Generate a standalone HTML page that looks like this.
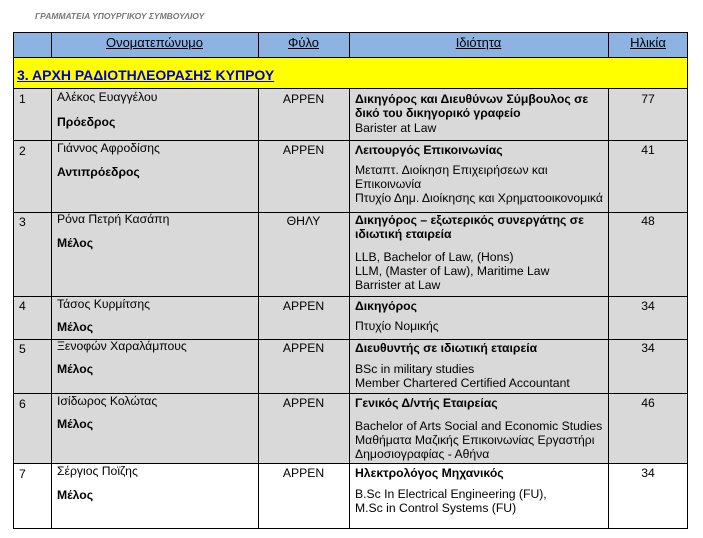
<!DOCTYPE html>
<html><head><meta charset="utf-8"><style>
body{margin:0;width:703px;height:538px;background:#fff;position:relative;overflow:hidden;font-family:"Liberation Sans",Arial,sans-serif;font-size:12.2px;color:#000}
.r{position:absolute;left:13px;width:675px;border:1px solid #000;box-sizing:border-box}
.v{position:absolute;top:32px;height:497px;width:1px;background:#000}
.t{position:absolute;line-height:14px;white-space:nowrap}
.c{text-align:center}
.b{font-weight:bold}
.h{font-size:13px}
</style></head><body>
<div class="t b" style="left:35px;top:9px;font-size:8.5px;font-style:italic;color:#777">ΓΡΑΜΜΑΤΕΙΑ ΥΠΟΥΡΓΙΚΟΥ ΣΥΜΒΟΥΛΙΟΥ</div>
<div class="r" style="top:32px;height:26px;background:#8db3e2"></div>
<div class="r" style="top:57px;height:32px;background:#ffff00"></div>
<div class="r" style="top:88px;height:53px;background:#d9d9d9"></div>
<div class="r" style="top:140px;height:73px;background:#d9d9d9"></div>
<div class="r" style="top:212px;height:85px;background:#d9d9d9"></div>
<div class="r" style="top:296px;height:44px;background:#d9d9d9"></div>
<div class="r" style="top:339px;height:55px;background:#d9d9d9"></div>
<div class="r" style="top:393px;height:71px;background:#d9d9d9"></div>
<div class="r" style="top:463px;height:66px;background:#fff"></div>
<div class="v" style="left:13px"></div><div class="v" style="left:687px"></div>
<div class="v" style="left:51px;top:32px;height:26px"></div><div class="v" style="left:258px;top:32px;height:26px"></div><div class="v" style="left:349px;top:32px;height:26px"></div><div class="v" style="left:608px;top:32px;height:26px"></div>
<div class="v" style="left:51px;top:88px;height:441px"></div><div class="v" style="left:258px;top:88px;height:441px"></div><div class="v" style="left:349px;top:88px;height:441px"></div><div class="v" style="left:608px;top:88px;height:441px"></div>
<div class="t c h" style="left:51px;width:207px;top:36px;text-decoration:underline">Ονοματεπώνυμο</div>
<div class="t c h" style="left:258px;width:91px;top:36px;text-decoration:underline">Φύλο</div>
<div class="t c h" style="left:349px;width:259px;top:36px;text-decoration:underline">Ιδιότητα</div>
<div class="t c h" style="left:608px;width:80px;top:36px;text-decoration:underline">Ηλικία</div>
<div class="t b" style="left:17px;top:68px;font-size:14px;color:#0000cc;text-decoration:underline">3. ΑΡΧΗ ΡΑΔΙΟΤΗΛΕΟΡΑΣΗΣ ΚΥΠΡΟΥ</div>

<div class="t" style="left:19px;top:92px">1</div>
<div class="t" style="left:57px;top:90px">Αλέκος Ευαγγέλου</div>
<div class="t b" style="left:57px;top:115px">Πρόεδρος</div>
<div class="t c" style="left:258px;width:91px;top:92px">ΑΡΡΕΝ</div>
<div class="t b" style="left:355px;top:92px">Δικηγόρος και Διευθύνων Σύμβουλος σε<br>δικό του δικηγορικό γραφείο</div>
<div class="t" style="left:355px;top:121px">Barister at Law</div>
<div class="t c" style="left:608px;width:80px;top:92px">77</div>

<div class="t" style="left:19px;top:144px">2</div>
<div class="t" style="left:57px;top:141px">Γιάννος Αφροδίσης</div>
<div class="t b" style="left:57px;top:165px">Αντιπρόεδρος</div>
<div class="t c" style="left:258px;width:91px;top:143px">ΑΡΡΕΝ</div>
<div class="t b" style="left:355px;top:143px">Λειτουργός Επικοινωνίας</div>
<div class="t" style="left:355px;top:163px">Μεταπτ. Διοίκηση Επιχειρήσεων και<br>Επικοινωνία<br>Πτυχίο Δημ. Διοίκησης και Χρηματοοικονομικά</div>
<div class="t c" style="left:608px;width:80px;top:143px">41</div>

<div class="t" style="left:19px;top:215px">3</div>
<div class="t" style="left:57px;top:212px">Ρόνα Πετρή Κασάπη</div>
<div class="t b" style="left:57px;top:236px">Μέλος</div>
<div class="t c" style="left:258px;width:91px;top:214px">ΘΗΛΥ</div>
<div class="t b" style="left:355px;top:213px">Δικηγόρος – εξωτερικός συνεργάτης σε<br>ιδιωτική εταιρεία</div>
<div class="t" style="left:355px;top:250px">LLB, Bachelor of Law, (Hons)<br>LLM, (Master of Law), Maritime Law<br>Barrister at Law</div>
<div class="t c" style="left:608px;width:80px;top:214px">48</div>

<div class="t" style="left:19px;top:299px">4</div>
<div class="t" style="left:57px;top:297px">Τάσος Κυρμίτσης</div>
<div class="t b" style="left:57px;top:320px">Μέλος</div>
<div class="t c" style="left:258px;width:91px;top:299px">ΑΡΡΕΝ</div>
<div class="t b" style="left:355px;top:299px">Δικηγόρος</div>
<div class="t" style="left:355px;top:319px">Πτυχίο Νομικής</div>
<div class="t c" style="left:608px;width:80px;top:299px">34</div>

<div class="t" style="left:19px;top:342px">5</div>
<div class="t" style="left:57px;top:339px">Ξενοφών Χαραλάμπους</div>
<div class="t b" style="left:57px;top:362px">Μέλος</div>
<div class="t c" style="left:258px;width:91px;top:341px">ΑΡΡΕΝ</div>
<div class="t b" style="left:355px;top:341px">Διευθυντής σε ιδιωτική εταιρεία</div>
<div class="t" style="left:355px;top:362px">BSc in military studies<br>Member Chartered Certified Accountant</div>
<div class="t c" style="left:608px;width:80px;top:341px">34</div>

<div class="t" style="left:19px;top:397px">6</div>
<div class="t" style="left:57px;top:394px">Ισίδωρος Κολώτας</div>
<div class="t b" style="left:57px;top:417px">Μέλος</div>
<div class="t c" style="left:258px;width:91px;top:396px">ΑΡΡΕΝ</div>
<div class="t b" style="left:355px;top:396px">Γενικός Δ/ντής Εταιρείας</div>
<div class="t" style="left:355px;top:419px">Bachelor of Arts Social and Economic Studies<br>Μαθήματα Μαζικής Επικοινωνίας Εργαστήρι<br>Δημοσιογραφίας - Αθήνα</div>
<div class="t c" style="left:608px;width:80px;top:396px">46</div>

<div class="t" style="left:19px;top:467px">7</div>
<div class="t" style="left:57px;top:464px">Σέργιος Ποϊζης</div>
<div class="t b" style="left:57px;top:488px">Μέλος</div>
<div class="t c" style="left:258px;width:91px;top:466px">ΑΡΡΕΝ</div>
<div class="t b" style="left:355px;top:466px">Ηλεκτρολόγος Μηχανικός</div>
<div class="t" style="left:355px;top:487px">B.Sc In Electrical Engineering (FU),<br>M.Sc in Control Systems (FU)</div>
<div class="t c" style="left:608px;width:80px;top:466px">34</div>
</body></html>
